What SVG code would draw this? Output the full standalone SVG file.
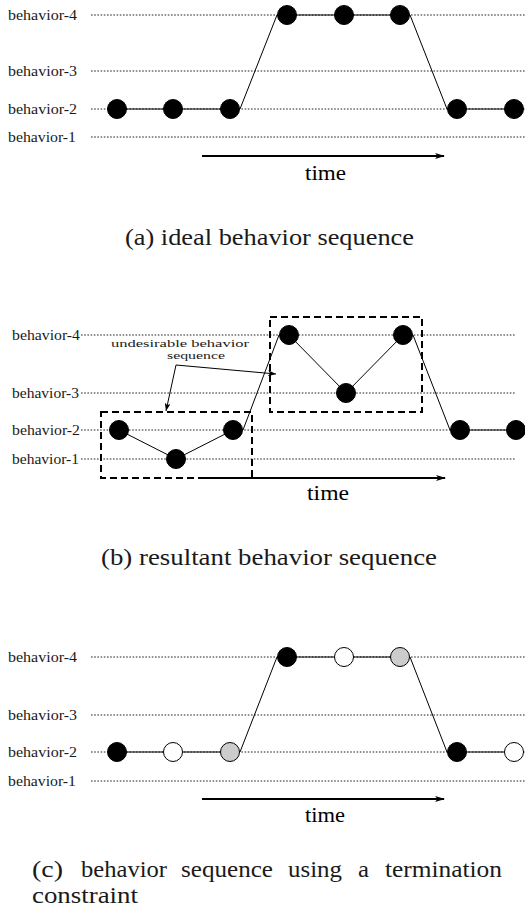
<svg xmlns="http://www.w3.org/2000/svg" width="525" height="909" viewBox="0 0 525 909">
  <style>
    .lbl { font-family: "Liberation Serif", "Times New Roman", serif; font-size: 14px; fill: #1a1a1a; }
    .ann { font-family: "Liberation Serif", "Times New Roman", serif; font-size: 11px; fill: #1a1a1a; }
    .time { font-family: "Liberation Serif", "Times New Roman", serif; font-size: 20px; fill: #000; }
    .cap { font-family: "Liberation Serif", "Times New Roman", serif; font-size: 23px; fill: #1a1a1a; }
    .dot { stroke: #222; stroke-width: 1; stroke-dasharray: 1.6 1.6; fill: none; }
    .seq { stroke: #000; stroke-width: 1; fill: none; }
    .axis { stroke: #000; stroke-width: 2; fill: none; marker-end: url(#axisHead); }
    .box { stroke: #000; stroke-width: 2; stroke-dasharray: 7 4; fill: none; }
    .ptr { stroke: #000; stroke-width: 1; fill: none; marker-end: url(#ptrHead); }
    .on { fill: #000; stroke: #000; stroke-width: 1; }
    .off { fill: #fff; stroke: #000; stroke-width: 1; }
    .mid { fill: #cccccc; stroke: #000; stroke-width: 1; }
  </style>
  <defs>
    <marker id="axisHead" viewBox="0 0 10 6" refX="9" refY="3" markerWidth="10" markerHeight="6" markerUnits="userSpaceOnUse" orient="auto">
      <path d="M0,0 L10,3 L0,6 L2.5,3 Z" fill="#000"/>
    </marker>
    <marker id="ptrHead" viewBox="0 0 8 6" refX="8" refY="3" markerWidth="8" markerHeight="6" markerUnits="userSpaceOnUse" orient="auto">
      <path d="M0,0 L8,3 L0,6 L2,3 Z" fill="#000"/>
    </marker>
  </defs>

  <!-- Panel (a): ideal behavior sequence -->
  <g id="panel-a">
    <g id="a-levels">
      <text class="lbl" x="8" y="20" textLength="69" lengthAdjust="spacingAndGlyphs">behavior-4</text>
      <text class="lbl" x="8" y="76" textLength="69" lengthAdjust="spacingAndGlyphs">behavior-3</text>
      <text class="lbl" x="8" y="114" textLength="69" lengthAdjust="spacingAndGlyphs">behavior-2</text>
      <text class="lbl" x="8" y="142" textLength="68" lengthAdjust="spacingAndGlyphs">behavior-1</text>
      <line class="dot" x1="91" y1="15" x2="525" y2="15"/>
      <line class="dot" x1="91" y1="71" x2="525" y2="71"/>
      <line class="dot" x1="91" y1="109" x2="525" y2="109"/>
      <line class="dot" x1="91" y1="137" x2="525" y2="137"/>
    </g>
    <g id="a-connectors">
      <polyline class="seq" points="117,109 240,109 277,15 410,15 447,109 514,109"/>
      <line class="axis" x1="202" y1="156" x2="444" y2="156"/>
    </g>
    <g id="a-states">
      <circle class="on" cx="117" cy="109" r="9.5"/>
      <circle class="on" cx="173" cy="109" r="9.5"/>
      <circle class="on" cx="230" cy="109" r="9.5"/>
      <circle class="on" cx="287" cy="15" r="9.5"/>
      <circle class="on" cx="344" cy="15" r="9.5"/>
      <circle class="on" cx="400" cy="15" r="9.5"/>
      <circle class="on" cx="457" cy="109" r="9.5"/>
      <circle class="on" cx="514" cy="109" r="9.5"/>
    </g>
    <text class="time" x="305" y="180" textLength="41" lengthAdjust="spacingAndGlyphs">time</text>
    <text class="cap" x="125" y="245" textLength="289" lengthAdjust="spacingAndGlyphs">(a) ideal behavior sequence</text>
  </g>

  <!-- Panel (b): resultant behavior sequence -->
  <g id="panel-b">
    <g id="b-levels">
      <text class="lbl" x="12" y="340" textLength="68" lengthAdjust="spacingAndGlyphs">behavior-4</text>
      <text class="lbl" x="12" y="398" textLength="67" lengthAdjust="spacingAndGlyphs">behavior-3</text>
      <text class="lbl" x="12" y="435" textLength="68" lengthAdjust="spacingAndGlyphs">behavior-2</text>
      <text class="lbl" x="12" y="464" textLength="67" lengthAdjust="spacingAndGlyphs">behavior-1</text>
      <line class="dot" x1="81" y1="335" x2="516" y2="335"/>
      <line class="dot" x1="81" y1="393" x2="516" y2="393"/>
      <line class="dot" x1="81" y1="430" x2="516" y2="430"/>
      <line class="dot" x1="81" y1="459" x2="516" y2="459"/>
    </g>
    <g id="b-connectors">
      <polyline class="seq" points="119,430 176,459 233,430"/>
      <polyline class="seq" points="243,430 279,335"/>
      <polyline class="seq" points="289,335 346,393 403,335"/>
      <polyline class="seq" points="413,335 450,430 516,430"/>
      <line class="axis" x1="200" y1="478" x2="445" y2="478"/>
    </g>
    <g id="b-undesirable-boxes">
      <rect class="box" x="101" y="412" width="151" height="66"/>
      <rect class="box" x="270" y="317" width="152" height="95"/>
    </g>
    <g id="b-states">
      <circle class="on" cx="119" cy="430" r="9.5"/>
      <circle class="on" cx="176" cy="459" r="9.5"/>
      <circle class="on" cx="233" cy="430" r="9.5"/>
      <circle class="on" cx="289" cy="335" r="9.5"/>
      <circle class="on" cx="346" cy="393" r="9.5"/>
      <circle class="on" cx="403" cy="335" r="9.5"/>
      <circle class="on" cx="460" cy="430" r="9.5"/>
      <circle class="on" cx="516" cy="430" r="9.5"/>
    </g>
    <g id="b-annotation">
      <text class="ann" x="111" y="346.5" textLength="138" lengthAdjust="spacingAndGlyphs">undesirable  behavior</text>
      <text class="ann" x="167" y="359" textLength="58" lengthAdjust="spacingAndGlyphs">sequence</text>
      <line class="ptr" x1="176" y1="365" x2="166" y2="411"/>
      <line class="ptr" x1="176" y1="365" x2="276" y2="374"/>
    </g>
    <text class="time" x="307" y="500" textLength="42" lengthAdjust="spacingAndGlyphs">time</text>
    <text class="cap" x="101" y="565" textLength="336" lengthAdjust="spacingAndGlyphs">(b) resultant behavior sequence</text>
  </g>

  <!-- Panel (c): behavior sequence using a termination constraint -->
  <g id="panel-c">
    <g id="c-levels">
      <text class="lbl" x="8" y="662" textLength="69" lengthAdjust="spacingAndGlyphs">behavior-4</text>
      <text class="lbl" x="8" y="720" textLength="69" lengthAdjust="spacingAndGlyphs">behavior-3</text>
      <text class="lbl" x="8" y="757" textLength="69" lengthAdjust="spacingAndGlyphs">behavior-2</text>
      <text class="lbl" x="8" y="786" textLength="68" lengthAdjust="spacingAndGlyphs">behavior-1</text>
      <line class="dot" x1="91" y1="657" x2="525" y2="657"/>
      <line class="dot" x1="91" y1="715" x2="525" y2="715"/>
      <line class="dot" x1="91" y1="752" x2="525" y2="752"/>
      <line class="dot" x1="91" y1="781" x2="525" y2="781"/>
    </g>
    <g id="c-connectors">
      <polyline class="seq" points="117,752 240,752 277,657 410,657 447,752 514,752"/>
      <line class="axis" x1="202" y1="799" x2="444" y2="799"/>
    </g>
    <g id="c-states">
      <circle class="on" cx="117" cy="752" r="9.5"/>
      <circle class="off" cx="173" cy="752" r="9.5"/>
      <circle class="mid" cx="230" cy="752" r="9.5"/>
      <circle class="on" cx="287" cy="657" r="9.5"/>
      <circle class="off" cx="344" cy="657" r="9.5"/>
      <circle class="mid" cx="400" cy="657" r="9.5"/>
      <circle class="on" cx="457" cy="752" r="9.5"/>
      <circle class="off" cx="514" cy="752" r="9.5"/>
    </g>
    <text class="time" x="305" y="822" textLength="40" lengthAdjust="spacingAndGlyphs">time</text>
    <g id="c-caption" class="cap">
      <text x="32" y="877" textLength="31" lengthAdjust="spacingAndGlyphs">(c)</text>
      <text x="81" y="877" textLength="86" lengthAdjust="spacingAndGlyphs">behavior</text>
      <text x="181" y="877" textLength="92" lengthAdjust="spacingAndGlyphs">sequence</text>
      <text x="288" y="877" textLength="54" lengthAdjust="spacingAndGlyphs">using</text>
      <text x="358" y="877" textLength="11" lengthAdjust="spacingAndGlyphs">a</text>
      <text x="385" y="877" textLength="117" lengthAdjust="spacingAndGlyphs">termination</text>
      <text x="32" y="903" textLength="106" lengthAdjust="spacingAndGlyphs">constraint</text>
    </g>
  </g>
</svg>
